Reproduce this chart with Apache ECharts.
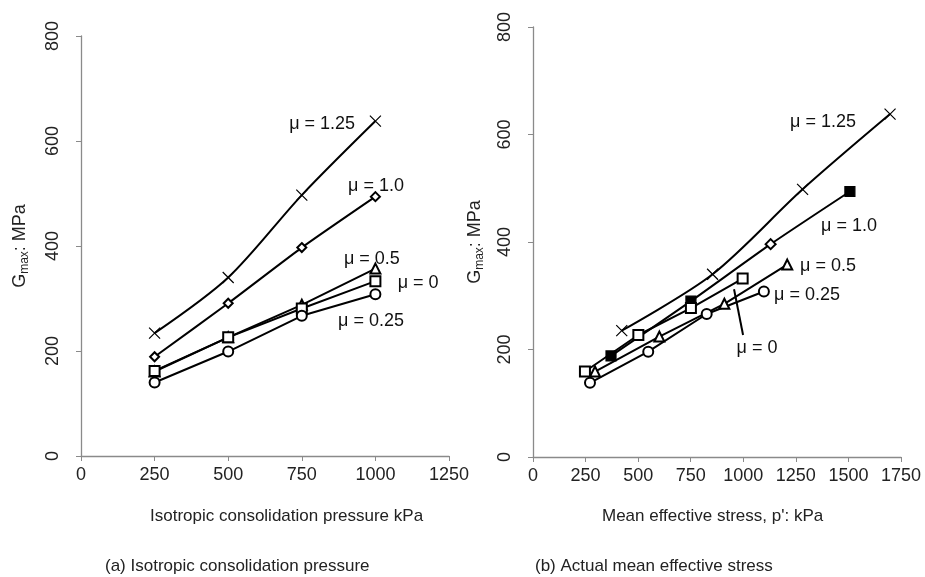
<!DOCTYPE html>
<html>
<head>
<meta charset="utf-8">
<script src="https://cdn.jsdelivr.net/npm/echarts@6/dist/echarts.min.js"></script>
<style>html,body{margin:0;padding:0;background:#fff}#c{width:925px;height:577px}</style>
</head>
<body>
<div id="c"></div>
<script>
// ---- data: (a) isotropic consolidation pressure ----
const xA = [250, 500, 750, 1000];
const a_mu125 = [234, 340, 497, 638];
const a_mu10 = [189, 291, 397, 494];
const a_mu05 = [161, 226, 288, 357];
const a_mu0 = [162, 226, 281, 333];
const a_mu025 = [140, 199, 267, 308];
// ---- data: (b) actual mean effective stress ----
const b_mu125_x = [422, 854, 1282, 1698];
const b_mu125_y = [235, 340, 498, 638];
const b_mu10_x = [371, 751, 1130, 1507];
const b_mu10_y = [188, 290, 396, 494];
const b_mu10_sym = ['rect', 'rect', 'emptyDiamond', 'rect'];
const b_mu05_x = [295, 601, 910, 1209];
const b_mu05_y = [159, 224, 285, 358];
const b_mu0_x = [247, 501, 751, 997];
const b_mu0_y = [159, 227, 277, 332];
const b_mu025_x = [271, 548, 826, 1098];
const b_mu025_y = [138, 196, 266, 308];
const yTicks = [0, 200, 400, 600, 800];
const labelsA = ['μ = 1.25', 'μ = 1.0', 'μ = 0.5', 'μ = 0', 'μ = 0.25'];
const labelsB = ['μ = 1.25', 'μ = 1.0', 'μ = 0.5', 'μ = 0', 'μ = 0.25'];

const FONT = 'Liberation Sans, Arial, sans-serif';
const XPATH = 'path://M0,0L10,10M10,0L0,10';

const zip = (xs, ys) => xs.map((x, i) => [x, ys[i]]);

function lineSeries(xi, data, symbol, smooth, size) {
  return {
    type: 'line', xAxisIndex: xi, yAxisIndex: xi, data: data,
    symbol: symbol, symbolSize: size || 9, smooth: smooth || false,
    lineStyle: { color: '#000', width: 2 },
    itemStyle: { color: symbol === XPATH ? 'rgba(0,0,0,0)' : '#000', borderColor: '#000', borderWidth: 1.2 },
    z: 3, animation: false, silent: true
  };
}

function labelSeries(xi, items) {
  return {
    type: 'scatter', xAxisIndex: xi, yAxisIndex: xi, symbolSize: 0, data: [],
    markPoint: {
      symbol: 'circle', symbolSize: 0, silent: true, animation: false,
      label: { show: true, position: 'inside', color: '#111', fontSize: 18, fontFamily: FONT, formatter: p => p.name },
      data: items.map(it => ({ name: it[0], coord: [it[1], it[2]] }))
    }
  };
}

const axisCommon = {
  axisLine: { show: true, lineStyle: { color: '#8a8a8a', width: 1.3 } },
  axisTick: { show: true, lineStyle: { color: '#8a8a8a' }, length: 5 },
  splitLine: { show: false },
  axisLabel: { color: '#222', fontSize: 18, fontFamily: FONT, margin: 10, formatter: v => String(v) }
};
const yLabel = { color: '#222', fontSize: 18, fontFamily: FONT, margin: 19, rotate: 90, formatter: v => String(v) };

const yName = {
  name: 'G{s|max}: MPa', nameLocation: 'middle', nameRotate: 90,
  nameTextStyle: { color: '#222', fontSize: 18, fontFamily: FONT, rich: { s: { fontSize: 12, verticalAlign: 'bottom', padding: [10, 0, 0, 0], fontFamily: FONT, color: '#222' } } }
};

const chart = echarts.init(document.getElementById('c'));
chart.setOption({
  animation: false,
  grid: [
    { left: 81, top: 36, width: 368, height: 420 },
    { left: 533, top: 27, width: 368, height: 430 }
  ],
  xAxis: [
    Object.assign({ type: 'value', gridIndex: 0, min: 0, max: 1250, interval: 250 }, axisCommon),
    Object.assign({ type: 'value', gridIndex: 1, min: 0, max: 1750, interval: 250 }, axisCommon)
  ],
  yAxis: [
    Object.assign({ type: 'value', gridIndex: 0, min: yTicks[0], max: yTicks[yTicks.length - 1], interval: 200, nameGap: 50 }, axisCommon, yName, { axisLabel: yLabel }),
    Object.assign({ type: 'value', gridIndex: 1, min: yTicks[0], max: yTicks[yTicks.length - 1], interval: 200, nameGap: 47 }, axisCommon, yName, { axisLabel: yLabel })
  ],
  graphic: [
    { type: 'text', left: 150, top: 508, style: { text: 'Isotropic consolidation pressure kPa', fontSize: 17, fontFamily: FONT, fill: '#222' } },
    { type: 'text', left: 602, top: 508, style: { text: "Mean effective stress, p': kPa", fontSize: 17, fontFamily: FONT, fill: '#222' } },
    { type: 'text', left: 105, top: 558, style: { text: '(a) Isotropic consolidation pressure', fontSize: 17, fontFamily: FONT, fill: '#222' } },
    { type: 'text', left: 535, top: 558, style: { text: '(b) Actual mean effective stress', fontSize: 17, fontFamily: FONT, fill: '#222' } }
  ],
  series: [
    lineSeries(0, zip(xA, a_mu125), XPATH, 0.3, 11),
    lineSeries(0, zip(xA, a_mu10), 'emptyDiamond', 0.2, 9),
    lineSeries(0, zip(xA, a_mu05), 'emptyTriangle', false, 10),
    lineSeries(0, zip(xA, a_mu0), 'emptyRect', false, 10),
    lineSeries(0, zip(xA, a_mu025), 'emptyCircle', false, 10),
    labelSeries(0, [
      [labelsA[0], 819, 632], [labelsA[1], 1002, 514], [labelsA[2], 988, 375],
      [labelsA[3], 1145, 330], [labelsA[4], 985, 257]
    ]),
    lineSeries(1, zip(b_mu125_x, b_mu125_y), XPATH, 0.3, 11),
    lineSeries(1, zip(b_mu10_x, b_mu10_y).map((p, i) => ({ value: p, symbol: b_mu10_sym[i] })), 'rect', 0.2, 10),
    lineSeries(1, zip(b_mu05_x, b_mu05_y), 'emptyTriangle', false, 10),
    lineSeries(1, zip(b_mu0_x, b_mu0_y), 'emptyRect', false, 10),
    lineSeries(1, zip(b_mu025_x, b_mu025_y), 'emptyCircle', false, 10),
    Object.assign(labelSeries(1, [
      [labelsB[0], 1379, 623], [labelsB[1], 1503, 430], [labelsB[2], 1403, 355],
      [labelsB[3], 1065, 203], [labelsB[4], 1303, 301]
    ]), {
      markLine: {
        silent: true, animation: false, symbol: ['none', 'arrow'], symbolSize: [0, 12],
        lineStyle: { color: '#000', width: 2, type: 'solid' }, label: { show: false },
        data: [[{ coord: [999, 227] }, { coord: [956, 312] }]]
      }
    })
  ]
});
</script>
</body>
</html>
